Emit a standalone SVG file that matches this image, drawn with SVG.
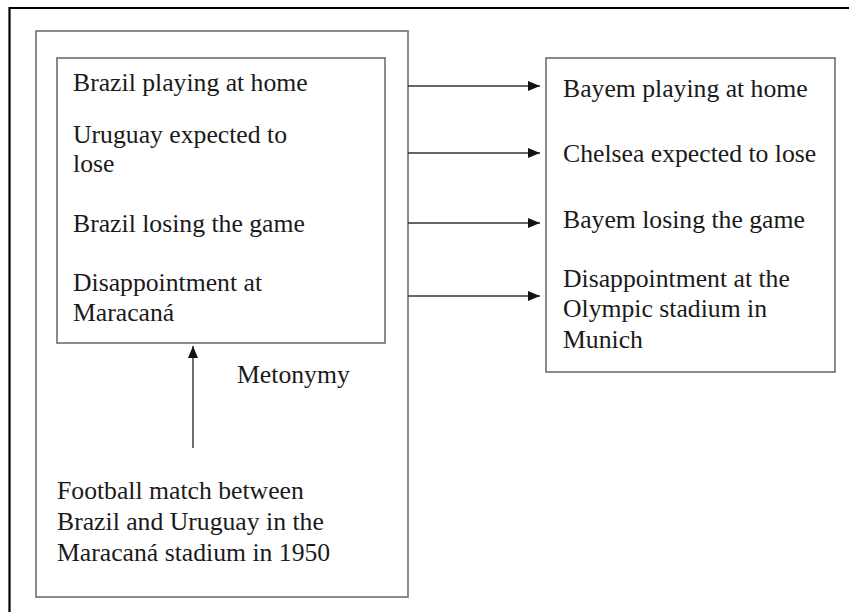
<svg xmlns="http://www.w3.org/2000/svg" width="849" height="612" viewBox="0 0 849 612">
<style>
.box{fill:none;stroke:#6e6e6e;stroke-width:1.6}
.t{font-family:"Liberation Serif","Times New Roman",serif;font-size:25.7px;fill:#1a1a1a}
.c{stroke:#333;stroke-width:1.4;fill:none}
</style>
<defs>
<marker id="ah" viewBox="0 0 12 10" refX="12" refY="5" markerWidth="12" markerHeight="10" markerUnits="userSpaceOnUse" orient="auto">
<path d="M0,0 L12,5 L0,10 Z" fill="#111"/>
</marker>
</defs>
<rect width="849" height="612" fill="#fff"/>
<g id="frame"><path d="M9.5,612 V8 H849" fill="none" stroke="#000" stroke-width="2.2"/></g>
<g id="source-domain"><rect class="box" x="36" y="31" width="372" height="566"/></g>
<g id="source-elements">
<rect class="box" x="57" y="58" width="328" height="285"/>
<text class="t" x="73" y="91">Brazil playing at home</text>
<text class="t" x="73" y="143">Uruguay expected to</text>
<text class="t" x="73" y="172">lose</text>
<text class="t" x="73" y="232">Brazil losing the game</text>
<text class="t" x="73" y="291">Disappointment at</text>
<text class="t" x="73" y="321">Maracaná</text>
</g>
<g id="target">
<rect class="box" x="546" y="58" width="289" height="314"/>
<text class="t" x="563" y="97">Bayem playing at home</text>
<text class="t" x="563" y="162">Chelsea expected to lose</text>
<text class="t" x="563" y="228">Bayem losing the game</text>
<text class="t" x="563" y="287">Disappointment at the</text>
<text class="t" x="563" y="317">Olympic stadium in</text>
<text class="t" x="563" y="348">Munich</text>
</g>
<g id="football-match">
<text class="t" x="57" y="499">Football match between</text>
<text class="t" x="57" y="530">Brazil and Uruguay in the</text>
<text class="t" x="57" y="561">Maracaná stadium in 1950</text>
</g>
<g id="metonymy-label"><text class="t" x="237" y="383">Metonymy</text></g>
<g id="connectors">
<line class="c" x1="408" y1="86" x2="540" y2="86" marker-end="url(#ah)"/>
<line class="c" x1="408" y1="153" x2="540" y2="153" marker-end="url(#ah)"/>
<line class="c" x1="408" y1="223" x2="540" y2="223" marker-end="url(#ah)"/>
<line class="c" x1="408" y1="296" x2="540" y2="296" marker-end="url(#ah)"/>
<line class="c" x1="193" y1="448" x2="193" y2="346" marker-end="url(#ah)"/>
</g>
</svg>
